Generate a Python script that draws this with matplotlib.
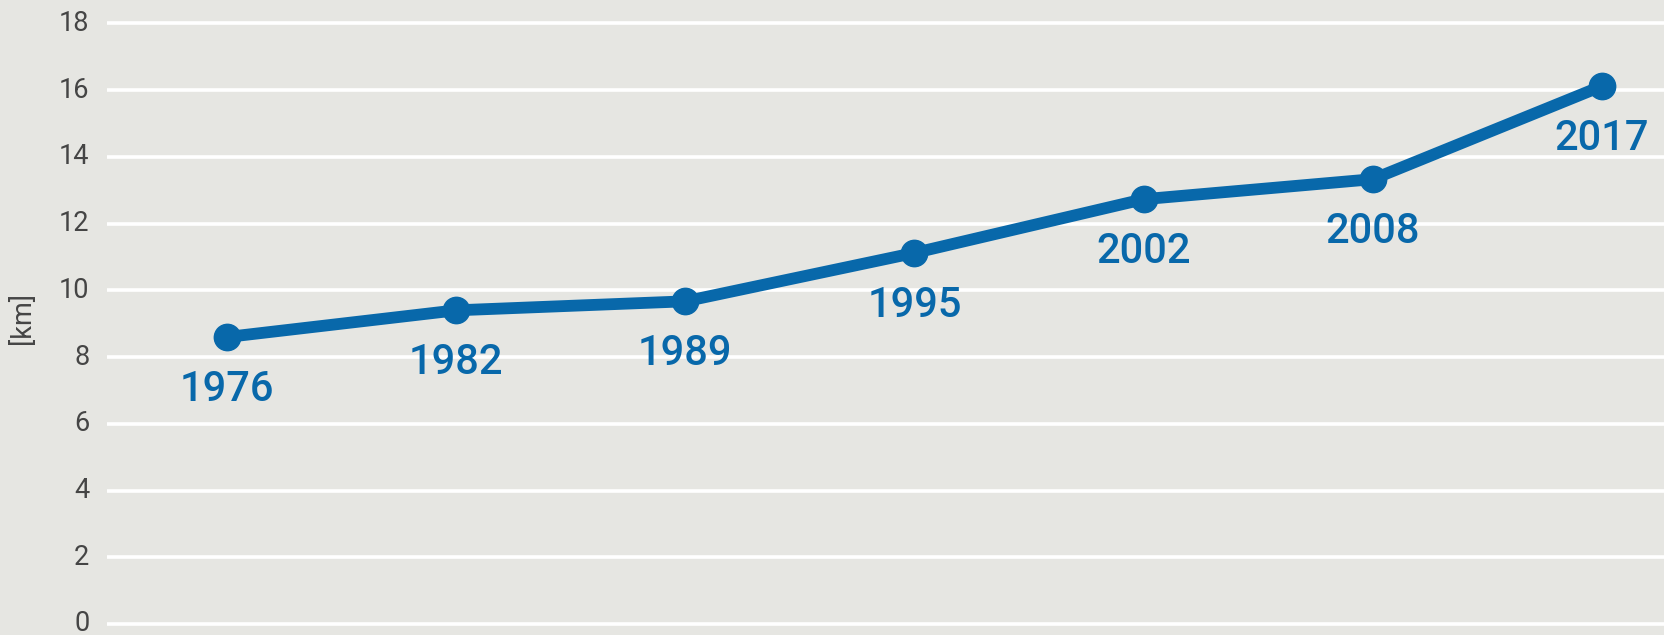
import matplotlib
matplotlib.use('Agg')
import matplotlib.pyplot as plt
import numpy as np

# data
years = ["1976", "1982", "1989", "1995", "2002", "2008", "2017"]
length_km = [8.6, 9.4, 9.67, 11.12, 12.73, 13.33, 16.12]
y_ticks = [0, 2, 4, 6, 8, 10, 12, 14, 16, 18]

BLUE = "#0868aa"
BG = "#e6e6e2"
GREY = "#454545"

fig = plt.figure(figsize=(16.65, 6.35), dpi=100, facecolor=BG)
ax = fig.add_axes([107.5 / 1665, 0, 1 - 107.5 / 1665, 1])
ax.set_facecolor(BG)

x = np.arange(len(years))
ax.plot(x, length_km, color=BLUE, lw=8.5, marker='o', ms=19,
        solid_capstyle='round', zorder=3)

for xi, yi, lab in zip(x, length_km, years):
    ax.annotate(lab, (xi, yi), xytext=(0, -46), textcoords='offset points',
                ha='center', va='baseline', fontsize=30, color=BLUE,
                family=['Roboto', 'DejaVu Sans'], fontweight='medium', zorder=4)

ax.set_xlim(-0.521, 6.275)
ax.set_ylim(-0.33, 18.7)
ax.set_yticks(y_ticks)
ax.set_yticklabels([str(t) for t in y_ticks], fontsize=19.5, color=GREY,
                   family=['Roboto', 'DejaVu Sans'], va='center')
ax.set_xticks([])
ax.tick_params(axis='y', length=0, pad=13)
ax.grid(axis='y', color='white', lw=2.6, zorder=0)
for s in ax.spines.values():
    s.set_visible(False)

fig.text(23 / 1665, 0.5, "[km]", rotation=90, ha='center', va='center',
         fontsize=19.5, color=GREY, family=['Roboto', 'DejaVu Sans'])

fig.savefig("out.png", dpi=100, facecolor=BG)
